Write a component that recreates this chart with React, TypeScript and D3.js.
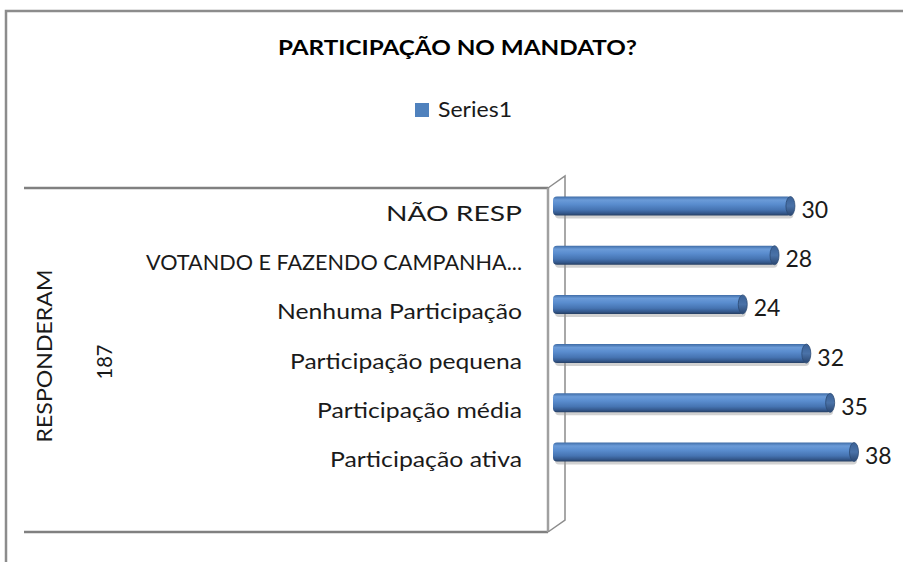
import React, { useEffect, useRef } from "react";
import * as d3 from "d3";

const categories = [
  "NÃO RESP",
  "VOTANDO E FAZENDO CAMPANHA...",
  "Nenhuma Participação",
  "Participação pequena",
  "Participação média",
  "Participação ativa",
];
const values = [30, 28, 24, 32, 35, 38];
const labelWidths = [136, 376, 245, 232, 205, 192];
const seriesName = "Series1";
const title = "PARTICIPAÇÃO NO MANDATO?";
const outerLabel = "RESPONDERAM";
const outerValue = "187";

const W = 903;
const H = 562;
const FONT = "Lato, 'Open Sans', sans-serif";

const App = () => {
  const ref = useRef<SVGSVGElement>(null);

  useEffect(() => {
    const svg = d3.select(ref.current);
    svg.selectAll("*").remove();

    const x = d3.scaleLinear().domain([0, 38]).range([553, 855]);
    const y = d3.scalePoint<string>().domain(categories).range([206, 452]);
    const barH = 19;

    const defs = svg.append("defs");
    const grad = defs
      .append("linearGradient")
      .attr("id", "cyl")
      .attr("x1", 0)
      .attr("y1", 0)
      .attr("x2", 0)
      .attr("y2", 1);
    [
      [0, "#3f6ca6"],
      [0.18, "#6b9bd8"],
      [0.4, "#5a8dcf"],
      [0.7, "#4674b2"],
      [0.88, "#34588c"],
      [1, "#263f63"],
    ].forEach(([o, c]) =>
      grad.append("stop").attr("offset", o as number).attr("stop-color", c as string)
    );
    const capGrad = defs
      .append("linearGradient")
      .attr("id", "cap")
      .attr("x1", 0)
      .attr("y1", 0)
      .attr("x2", 0)
      .attr("y2", 1);
    [
      [0, "#3a6196"],
      [0.5, "#4a72a8"],
      [1, "#2a4670"],
    ].forEach(([o, c]) =>
      capGrad.append("stop").attr("offset", o as number).attr("stop-color", c as string)
    );

    // outer frame
    svg
      .append("path")
      .attr("d", `M6,${H} L6,11 L${W},11`)
      .attr("fill", "none")
      .attr("stroke", "#8c8c8c")
      .attr("stroke-width", 2.5);

    // title
    svg
      .append("text")
      .attr("x", 278)
      .attr("y", 55)
      .attr("textLength", 359)
      .attr("lengthAdjust", "spacingAndGlyphs")
      .attr("font-family", FONT)
      .attr("font-weight", "bold")
      .attr("font-size", 21)
      .attr("fill", "#000")
      .text(title);

    // legend
    svg
      .append("rect")
      .attr("x", 415)
      .attr("y", 103)
      .attr("width", 14)
      .attr("height", 14)
      .attr("fill", "#4f81bd");
    svg
      .append("text")
      .attr("x", 438)
      .attr("y", 117)
      .attr("textLength", 74)
      .attr("lengthAdjust", "spacingAndGlyphs")
      .attr("font-family", FONT)
      .attr("font-size", 22)
      .attr("fill", "#1a1a1a")
      .text(seriesName);

    // category box with 3D wall
    const box = svg.append("g").attr("fill", "none");
    box
      .append("path")
      .attr("d", "M24,188 L548,188 M24,532 L548,532")
      .attr("stroke", "#808080")
      .attr("stroke-width", 2.5);
    box
      .append("path")
      .attr("d", "M548,188 L548,532")
      .attr("stroke", "#a0a0a0")
      .attr("stroke-width", 2.5);
    box
      .append("path")
      .attr("d", "M548,188 L565,176 L565,520 L548,532")
      .attr("stroke", "#8c8c8c")
      .attr("stroke-width", 1.5);

    // outer group labels
    svg
      .append("text")
      .attr("transform", "translate(52,356) rotate(-90)")
      .attr("text-anchor", "middle")
      .attr("textLength", 173)
      .attr("lengthAdjust", "spacingAndGlyphs")
      .attr("font-family", FONT)
      .attr("font-size", 22)
      .attr("fill", "#1a1a1a")
      .text(outerLabel);
    svg
      .append("text")
      .attr("transform", "translate(112,362) rotate(-90)")
      .attr("text-anchor", "middle")
      .attr("textLength", 35)
      .attr("lengthAdjust", "spacingAndGlyphs")
      .attr("font-family", FONT)
      .attr("font-size", 22)
      .attr("fill", "#1a1a1a")
      .text(outerValue);

    // category labels
    svg
      .append("g")
      .selectAll("text")
      .data(categories)
      .join("text")
      .attr("x", 522)
      .attr("y", (d) => (y(d) as number) + 15)
      .attr("text-anchor", "end")
      .attr("textLength", (d, i) => labelWidths[i])
      .attr("lengthAdjust", "spacingAndGlyphs")
      .attr("font-family", FONT)
      .attr("font-size", 22)
      .attr("fill", "#1a1a1a")
      .text((d) => d);

    // bars
    const bars = svg
      .append("g")
      .selectAll("g")
      .data(values)
      .join("g")
      .attr("transform", (d, i) => `translate(0,${y(categories[i])})`);

    bars
      .append("rect")
      .attr("x", x(0) + 2)
      .attr("y", -barH / 2 + 3)
      .attr("width", (d) => x(d) - x(0))
      .attr("height", barH)
      .attr("rx", 4)
      .attr("fill", "#9a9a9a")
      .attr("opacity", 0.45);
    bars
      .append("rect")
      .attr("x", x(0))
      .attr("y", -barH / 2)
      .attr("width", (d) => x(d) - x(0))
      .attr("height", barH)
      .attr("rx", 4)
      .attr("fill", "url(#cyl)");
    bars
      .append("ellipse")
      .attr("cx", (d) => x(d) - 1)
      .attr("cy", 0)
      .attr("rx", 4.5)
      .attr("ry", barH / 2)
      .attr("fill", "url(#cap)")
      .attr("stroke", "#2c4a74")
      .attr("stroke-width", 0.8);

    // value labels
    svg
      .append("g")
      .selectAll("text")
      .data(values)
      .join("text")
      .attr("x", (d) => x(d) + 10)
      .attr("y", (d, i) => (y(categories[i]) as number) + 12)
      .attr("font-family", FONT)
      .attr("font-size", 23)
      .attr("fill", "#1a1a1a")
      .text((d) => d);
  }, []);

  return (
    <svg
      ref={ref}
      width={W}
      height={H}
      style={{ position: "absolute", left: 0, top: 0, background: "#fff" }}
    />
  );
};

export default App;
